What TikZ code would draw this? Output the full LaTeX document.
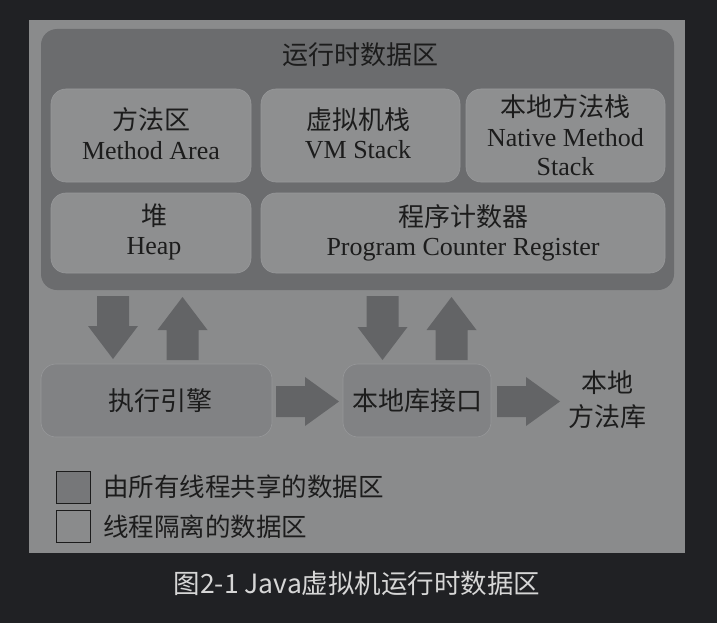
\documentclass[tikz,border=0pt]{standalone}
\usepackage{fontspec}
\setmainfont{Liberation Serif}
\newfontfamily\cjk{Noto Sans CJK SC}
\definecolor{bgc}{HTML}{202124}
\definecolor{panelc}{HTML}{8A8B8C}
\definecolor{darkc}{HTML}{6B6C6E}
\definecolor{innerc}{HTML}{8E8F90}
\definecolor{innerline}{HTML}{97989A}
\definecolor{bottomc}{HTML}{818284}
\definecolor{arrowc}{HTML}{636466}
\definecolor{txtc}{HTML}{1C1C1C}
\definecolor{capc}{HTML}{D6D6D6}
\definecolor{legc}{HTML}{767779}
\newcommand\fatdown[3]{% cx, top, bottom
  \fill[arrowc] (#1-16,#2) -- (#1+16,#2) -- (#1+16,#3-33) -- (#1+25,#3-33) -- (#1,#3) -- (#1-25,#3-33) -- (#1-16,#3-33) -- cycle;}
\newcommand\fatup[3]{% cx, top, bottom
  \fill[arrowc] (#1-16,#3) -- (#1+16,#3) -- (#1+16,#2+33) -- (#1+25,#2+33) -- (#1,#2) -- (#1-25,#2+33) -- (#1-16,#2+33) -- cycle;}
\newcommand\fatright[3]{% cy, left, right
  \fill[arrowc] (#2,#1-15.5) -- (#3-34,#1-15.5) -- (#3-34,#1-24.5) -- (#3,#1) -- (#3-34,#1+24.5) -- (#3-34,#1+15.5) -- (#2,#1+15.5) -- cycle;}
\begin{document}
\begin{tikzpicture}[x=1pt,y=-1pt,
  every node/.style={text=txtc},
  ibox/.style={fill=innerc, draw=innerline, line width=0.6pt, rounded corners=15pt, align=center,
    font=\fontsize{26}{29.5}\selectfont, inner sep=0pt},
  bbox/.style={fill=bottomc, draw=innerline, line width=0.6pt, rounded corners=15pt, align=center,
    font=\fontsize{26}{30}\selectfont\cjk, inner sep=0pt},
  legbox/.style={draw=txtc, line width=0.8pt, minimum width=34pt, minimum height=32pt, inner sep=0pt},
  legtxt/.style={anchor=west, font=\fontsize{25.5}{28}\selectfont\cjk, inner sep=0pt}
]
\useasboundingbox (0,0) rectangle (717,623);
\fill[bgc] (0,0) rectangle (717,623);
\fill[panelc] (29,20) rectangle (685,553);
% runtime data area
\node[fill=darkc, rounded corners=16pt, minimum width=633pt, minimum height=261pt, inner sep=0pt] (rt) at (357.5,159.5) {};
\node[font=\fontsize{26}{29}\selectfont\cjk] (rttitle) at (360,55) {运行时数据区};
\node[ibox, minimum width=200pt, minimum height=93pt] (ma) at (151,135.5) {};
\node[align=center, font=\fontsize{26}{29.5}\selectfont, inner sep=0pt] (mat) at (151,133.5) {{\cjk 方法区}\\Method Area};
\node[ibox, minimum width=199pt, minimum height=93pt] (vm) at (360.5,135.5) {};
\node[align=center, font=\fontsize{26}{29.5}\selectfont, inner sep=0pt] (vmt) at (358,133.5) {{\cjk 虚拟机栈}\\VM Stack};
\node[ibox, minimum width=199pt, minimum height=93pt] (nm) at (565.5,135.5) {{\cjk 本地方法栈}\\Native Method\\Stack};
\node[ibox, minimum width=200pt, minimum height=80pt] (heap) at (151,233) {};
\node[align=center, font=\fontsize{26}{29.5}\selectfont, inner sep=0pt] (heapt) at (154,232) {{\cjk 堆}\\Heap};
\node[ibox, minimum width=404pt, minimum height=80pt] (pc) at (463,233) {{\cjk 程序计数器}\\Program Counter Register};
% bottom row
\node[bbox, minimum width=231pt, minimum height=73pt] (ee) at (156.5,400.5) {};
\node[font=\fontsize{26}{30}\selectfont\cjk, inner sep=0pt] (eet) at (160,400.5) {执行引擎};
\node[bbox, minimum width=148pt, minimum height=73pt] (ni) at (417,400.5) {本地库接口};
\node[align=center, font=\fontsize{26}{34}\selectfont\cjk, inner sep=0pt] (nl) at (607,400) {本地\\方法库};
% arrows
\fatdown{113}{296}{359}
\fatup{182.5}{297}{360}
\fatdown{382.5}{296}{360}
\fatup{451.5}{297}{360}
\fatright{401.5}{276}{339}
\fatright{401.5}{497}{560}
% legend
\node[legbox, fill=legc] (l1) at (73,487) {};
\node[legbox, fill=panelc] (l2) at (73,526) {};
\node[legtxt] (t1) at (103,487) {由所有线程共享的数据区};
\node[legtxt] (t2) at (103,527) {线程隔离的数据区};
% caption
\node[text=capc, font=\fontsize{26.5}{30}\selectfont\cjk] (cap) at (357,583) {图2-1 Java虚拟机运行时数据区};
\end{tikzpicture}
\end{document}
